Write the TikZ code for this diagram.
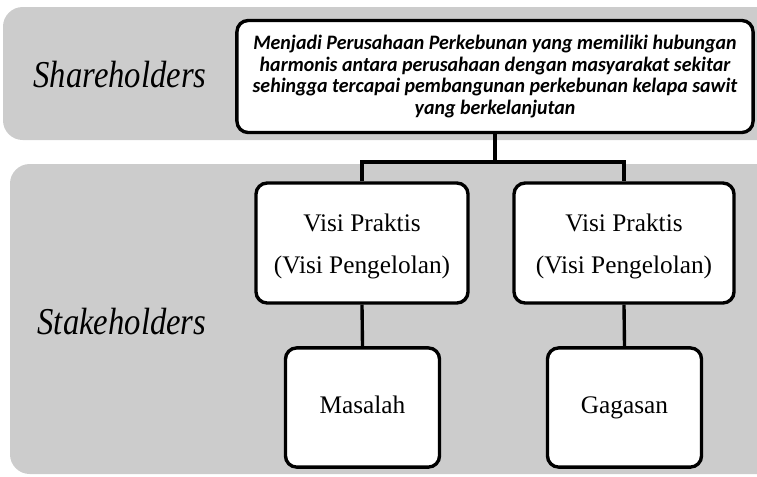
\documentclass[tikz,border=0pt]{standalone}
\usepackage{fontspec}
\setmainfont{Liberation Serif}
\newfontfamily\visionfont{Carlito}
\usetikzlibrary{positioning}

\begin{document}
\begin{tikzpicture}[x=0.025cm, y=-0.025cm,
    band/.style={fill=black!20, draw=none, rounded corners=14pt},
    box/.style={draw, line width=2.4pt, fill=white, rounded corners=8pt, align=center, inner sep=2pt},
    wire/.style={draw, line width=2.4pt},
    role/.style={font=\itshape\fontsize{27}{30}\selectfont}]
    % Define the frame
    \useasboundingbox (0,0) rectangle (757,476);
    \clip (0,0) rectangle (757,476);

    % Draw the grey bands
    \fill[band] (3,7) rectangle (790,140);
    \fill[band] (10,164) rectangle (790,474);

    % Label the bands
    \node[role] (share) at (120,75) {\scalebox{0.86}[1]{Shareholders}};
    \node[role] (stake) at (122,322) {\scalebox{0.86}[1]{Stakeholders}};

    % Draw the boxes
    \node[box, minimum width=12.9cm, minimum height=2.8cm,
        font=\visionfont\bfseries\itshape\fontsize{14.6}{15.6}\selectfont] (vision) at (495,76.5)
        {\scalebox{0.97}[1]{Menjadi Perusahaan Perkebunan yang memiliki hubungan}\\
         \scalebox{0.97}[1]{harmonis antara perusahaan dengan masyarakat sekitar}\\
         \scalebox{0.97}[1]{sehingga tercapai pembangunan perkebunan kelapa sawit}\\
         \scalebox{0.97}[1]{yang berkelanjutan}};
    \node[box, minimum width=5.3cm, minimum height=3cm, text height=47pt,
        font=\fontsize{18}{30}\selectfont] (praktisA) at (362,243)
        {Visi Praktis\\(Visi Pengelolan)};
    \node[box, minimum width=5.5cm, minimum height=3cm, text height=47pt,
        font=\fontsize{18}{30}\selectfont] (praktisB) at (624,243)
        {Visi Praktis\\(Visi Pengelolan)};
    \node[box, minimum width=3.85cm, minimum height=2.98cm, text height=12pt, text depth=4pt,
        font=\fontsize{18}{22}\selectfont] (masalah) at (362.5,407.5) {Masalah};
    \node[box, minimum width=3.85cm, minimum height=2.98cm, text height=12pt, text depth=4pt,
        font=\fontsize{18}{22}\selectfont] (gagasan) at (624.5,407.5) {Gagasan};

    % Draw the connectors
    \coordinate (split) at (vision.south |- 0,162);
    \path[wire] (vision.south) -- (split);
    \path[wire] (praktisA.north) |- (split) -| (praktisB.north);
    \path[wire] (praktisA.south) -- (masalah.north);
    \path[wire] (praktisB.south) -- (gagasan.north);
\end{tikzpicture}
\end{document}
